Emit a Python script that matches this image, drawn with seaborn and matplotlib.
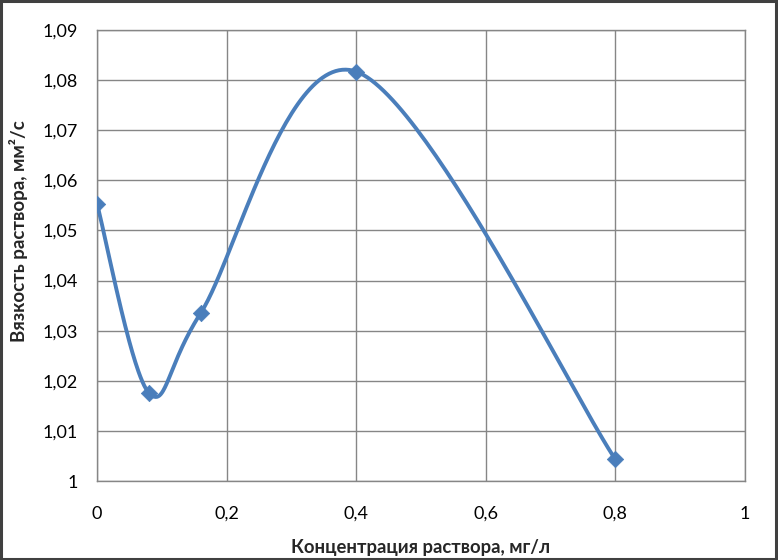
import numpy as np
import pandas as pd
import matplotlib
matplotlib.use("Agg")
import matplotlib.pyplot as plt
from matplotlib.patches import Rectangle
import seaborn as sns

# Data
concentration = [0.0, 0.08, 0.16, 0.4, 0.8]
viscosity = [1.0553, 1.0176, 1.0335, 1.0817, 1.0043]
x_ticks = [0, 0.2, 0.4, 0.6, 0.8, 1.0]
x_tick_labels = ["0", "0,2", "0,4", "0,6", "0,8", "1"]
y_ticks = [1.00, 1.01, 1.02, 1.03, 1.04, 1.05, 1.06, 1.07, 1.08, 1.09]
y_tick_labels = ["1", "1,01", "1,02", "1,03", "1,04", "1,05", "1,06", "1,07", "1,08", "1,09"]
x_title = "Концентрация раствора, мг/л"
y_title = "Вязкость раствора, мм²/с"


def smooth_curve(xs, ys, n=60):
    """Excel-like smoothed line (Catmull-Rom style cubic Bezier segments)."""
    P = np.column_stack([xs, ys]).astype(float)
    m = len(P)
    out = []
    for i in range(m - 1):
        p0 = P[i - 1] if i > 0 else P[i]
        p1 = P[i]
        p2 = P[i + 1]
        p3 = P[i + 2] if i + 2 < m else P[i + 1]
        c1 = p1 + (p2 - p0) / 6.0
        c2 = p2 - (p3 - p1) / 6.0
        t = np.linspace(0, 1, n)[:, None]
        seg = ((1 - t) ** 3) * p1 + 3 * ((1 - t) ** 2) * t * c1 + 3 * (1 - t) * t ** 2 * c2 + t ** 3 * p2
        if i > 0:
            seg = seg[1:]
        out.append(seg)
    return np.vstack(out)


sns.set_style("white")
plt.rcParams["font.family"] = ["Lato", "DejaVu Sans"]

fig = plt.figure(figsize=(7.78, 5.60), dpi=100)
ax = fig.add_axes([97 / 778, 1 - 481 / 560, (745 - 97) / 778, (481 - 30) / 560])

curve = smooth_curve(concentration, viscosity)
df_curve = pd.DataFrame({"x": curve[:, 0], "y": curve[:, 1]})
df_pts = pd.DataFrame({"x": concentration, "y": viscosity})

color = "#4A7EBB"
sns.lineplot(data=df_curve, x="x", y="y", sort=False, estimator=None, ax=ax,
             color=color, linewidth=2.8, zorder=3)
sns.scatterplot(data=df_pts, x="x", y="y", ax=ax, marker="D", s=70,
                color=color, edgecolor=color, linewidth=0.5, zorder=4)

ax.set_xlim(0, 1)
ax.set_ylim(1.0, 1.09)
ax.set_xticks(x_ticks)
ax.set_xticklabels(x_tick_labels)
ax.set_yticks(y_ticks)
ax.set_yticklabels(y_tick_labels)

grid_c = "#868686"
ax.grid(True, color=grid_c, linewidth=1)
ax.set_axisbelow(True)
for s in ax.spines.values():
    s.set_color(grid_c)
    s.set_linewidth(1)
ax.tick_params(axis="both", direction="out", length=5, width=1, color=grid_c,
               labelsize=13, labelcolor="black")
ax.tick_params(axis="y", pad=9)
ax.tick_params(axis="x", pad=13)

ax.set_xlabel("")
ax.set_ylabel("")
fig.text(421 / 778, 1 - 547 / 560, x_title, ha="center", va="center",
         fontsize=13.3, fontweight="bold")
fig.text(19 / 778, 1 - 231 / 560, y_title, ha="center", va="center",
         rotation=90, fontsize=13.5, fontweight="bold")

fig.patches.append(Rectangle((0.0015, 0.002), 0.996, 0.996, transform=fig.transFigure,
                             fill=False, edgecolor="#404040", linewidth=2.2))

fig.savefig("out.png", dpi=100)
